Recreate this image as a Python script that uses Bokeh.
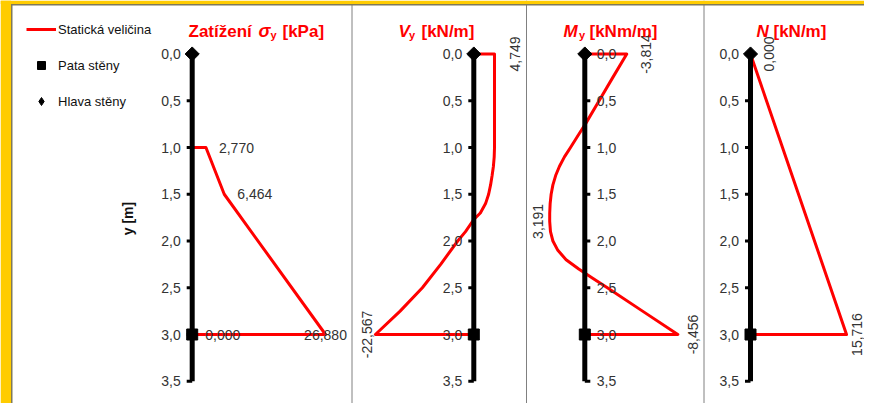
import math
from bokeh.plotting import figure
from bokeh.models import Range1d, Span, BoxAnnotation, Label, Legend, LegendItem
from bokeh.core.properties import value
from bokeh.embed import file_html
from bokeh.resources import INLINE

# ---------------- data ----------------
depth_ticks = [0.0, 0.5, 1.0, 1.5, 2.0, 2.5, 3.0, 3.5]
depth_tick_labels = ["0,0", "0,5", "1,0", "1,5", "2,0", "2,5", "3,0", "3,5"]
wall_head_depth = [0.0]
wall_foot_depth = [3.0]
axis_value = [0.0]

sigma_depth = [0.0, 1.0, 1.0, 1.5, 3.0, 3.0]
sigma_value = [0.0, 0.0, 2.770, 6.464, 26.880, 0.000]
sigma_lbl_depth = [1.0, 1.5, 3.0, 3.0]
sigma_lbl_value = [2.770, 6.464, 0.000, 26.880]

vy_depth = [0.0, 0.0, 1.0, 1.1, 1.2, 1.3, 1.4, 1.5, 1.6, 1.7, 1.77, 1.9, 2.0, 2.25, 2.5, 2.75, 3.0, 3.0]
vy_value = [0.0, 4.749, 4.749, 4.68, 4.5, 4.2, 3.85, 3.4, 2.7, 1.5, 0.0, -1.9, -3.7, -7.6, -11.8, -16.9, -22.567, 0.0]
vy_lbl_depth = [0.0, 3.0]
vy_lbl_value = [4.749, -22.567]

my_depth = [0.0, 0.0, 0.25, 0.5, 0.75, 0.85, 1.0, 1.1, 1.2, 1.3, 1.4, 1.5, 1.6, 1.7, 1.79, 1.9,
            2.0, 2.1, 2.2, 2.3, 2.4, 2.5, 2.75, 3.0, 3.0]
my_value = [0.0, -3.814, -2.55, -1.3, -0.05, 0.5, 1.3, 1.85, 2.3, 2.65, 2.9, 3.06, 3.15, 3.19, 3.191, 3.12,
            2.9, 2.45, 1.7, 0.55, -0.75, -2.05, -5.25, -8.456, 0.0]
my_lbl_depth = [0.0, 1.79, 3.0]
my_lbl_value = [-3.814, 3.191, -8.456]

n_depth = [0.0, 3.0, 3.0]
n_value = [0.0, 15.716, 0.0]
n_lbl_depth = [0.0, 3.0]
n_lbl_value = [0.000, 15.716]


def fmt3(v):
    return f"{v:.3f}".replace(".", ",")


# ---------------- layout / style ----------------
W, H = 864, 403
X0S, X1S = 0, W
Y0S, Y1S = 0, H
DEPTH0_PX, PX_PER_M = 53.5, 93.5
RED = "#FF0000"
TXT = "#333333"
GOLD = "#FFCC00"
EDGE = "#7f7a5a"
FONT = "Liberation Sans"
HALFPI = math.pi / 2

panels = [
    dict(name="sig", depth=sigma_depth, vals=sigma_value, ld=sigma_lbl_depth, lv=sigma_lbl_value,
         axis_px=191.7, ppu=4.96, side=-1,
         lbl=[(13, "left", 0), (13, "left", 0), (13, "left", 0), (0, "center", 0)]),
    dict(name="vy", depth=vy_depth, vals=vy_value, ld=vy_lbl_depth, lv=vy_lbl_value,
         axis_px=473.3, ppu=4.36, side=-1,
         lbl=[(20, "center", HALFPI), (-8, "center", HALFPI)]),
    dict(name="my", depth=my_depth, vals=my_value, ld=my_lbl_depth, lv=my_lbl_value,
         axis_px=584.3, ppu=-11.0, side=1,
         lbl=[(19, "center", HALFPI), (-12, "center", HALFPI), (15, "center", HALFPI)]),
    dict(name="n", depth=n_depth, vals=n_value, ld=n_lbl_depth, lv=n_lbl_value,
         axis_px=750.0, ppu=6.11, side=-1,
         lbl=[(18, "center", HALFPI), (10, "center", HALFPI)]),
]

p = figure(width=W, height=H, output_backend="svg", toolbar_location=None,
           x_range=Range1d(X0S, X1S), y_range=Range1d(Y1S, Y0S),
           x_axis_location=None, y_axis_location=None, min_border=0,
           outline_line_color=None, background_fill_color="white", border_fill_color="white")
p.grid.visible = False

p.extra_y_ranges = {"m": Range1d(start=(Y1S - DEPTH0_PX) / PX_PER_M, end=(Y0S - DEPTH0_PX) / PX_PER_M)}
p.extra_x_ranges = {pn["name"]: Range1d(start=(X0S - pn["axis_px"]) / pn["ppu"],
                                        end=(X1S - pn["axis_px"]) / pn["ppu"]) for pn in panels}

# panel separators
for sx in (351.5, 526.0, 703.5):
    p.add_layout(Span(location=sx, dimension="height", line_color="#808080", line_width=1))
# gold frame with its dark inner edge
p.add_layout(BoxAnnotation(left=10.5, right=12, top=4, bottom=Y1S, fill_color=EDGE, fill_alpha=1, line_color=None))
p.add_layout(BoxAnnotation(left=10.5, right=X1S, top=3.5, bottom=5, fill_color=EDGE, fill_alpha=1, line_color=None))
p.add_layout(BoxAnnotation(left=X0S, right=10.5, fill_color=GOLD, fill_alpha=1, line_color=None))
p.add_layout(BoxAnnotation(top=Y0S, bottom=3.5, fill_color=GOLD, fill_alpha=1, line_color=None))

text_common = dict(text_font=value(FONT), text_font_size="14px", text_color=TXT, text_baseline="middle")

line_renderers = []
foot_renderers = []
head_proxy = None
for i, pn in enumerate(panels):
    kw = dict(x_range_name=pn["name"], y_range_name="m")
    r = p.line(pn["vals"], pn["depth"], line_color=RED, line_width=3, line_join="round", **kw)
    line_renderers.append(r)
    # wall axis
    p.segment(x0=axis_value, y0=[depth_ticks[0]], x1=axis_value, y1=[depth_ticks[-1]],
              line_color="black", line_width=5, **kw)
    stub_x = (pn["side"] * 2.75) / pn["ppu"]
    p.rect(x=[stub_x] * len(depth_ticks), y=depth_ticks, width=5.5, height=3,
           width_units="screen", height_units="screen", fill_color="black", line_color=None, **kw)
    if pn["side"] < 0:
        p.text(x=axis_value * len(depth_ticks), y=depth_ticks, text=depth_tick_labels,
               x_offset=-11.5, text_align="right", **text_common, **kw)
    else:
        p.text(x=axis_value * len(depth_ticks), y=depth_ticks, text=depth_tick_labels,
               x_offset=12, text_align="left", **text_common, **kw)
    if i == 0:
        # diamond used for the legend entry, hidden under the head marker
        head_proxy = p.scatter(x=axis_value, y=wall_head_depth, marker="diamond", size=10,
                               color="black", **kw)
    p.scatter(x=axis_value, y=wall_head_depth, marker="square", angle=math.pi / 4, size=10,
              color="black", **kw)
    rf = p.scatter(x=axis_value, y=wall_foot_depth, marker="square", size=11, color="black", **kw)
    foot_renderers.append(rf)
    for v, d, (off, align, ang) in zip(pn["lv"], pn["ld"], pn["lbl"]):
        p.text(x=[v], y=[d], text=[fmt3(v)], x_offset=off, angle=ang, text_align=align,
               **text_common, **kw)

legend = Legend(items=[LegendItem(label="Statická veličina", renderers=[line_renderers[0]]),
                       LegendItem(label="Pata stěny", renderers=[foot_renderers[0]]),
                       LegendItem(label="Hlava stěny", renderers=[head_proxy])],
                location=(26, 292), border_line_color=None, background_fill_alpha=0,
                padding=0, margin=0, spacing=16, glyph_height=20, glyph_width=30,
                label_height=20, label_standoff=2, label_text_font=FONT,
                label_text_font_size="13px", label_text_color="#111111")
p.add_layout(legend)

# panel titles
title_pieces = [
    ("Zatížení", 188, "bold", "17px", 30.5),
    ("σ", 258, "bold italic", "18px", 30.5),
    ("y", 270, "bold", "11px", 34.5),
    ("[kPa]", 282, "bold", "17px", 30.5),
    ("V", 398, "bold italic", "17px", 30.5),
    ("y", 408.5, "bold", "11px", 34.5),
    ("[kN/m]", 421, "bold", "17px", 30.5),
    ("M", 563, "bold italic", "17px", 30.5),
    ("y", 578.5, "bold", "11px", 34.5),
    ("[kNm/m]", 589, "bold", "17px", 30.5),
    ("N", 756, "bold italic", "17px", 30.5),
    ("[kN/m]", 773, "bold", "17px", 30.5),
]
for txt, x, style, size, y in title_pieces:
    p.add_layout(Label(x=x, y=y, text=txt, text_font=FONT, text_font_style=style,
                       text_font_size=size, text_color=RED, text_align="left",
                       text_baseline="alphabetic"))

# y axis title
p.add_layout(Label(x=127, y=218, text="y [m]", angle=HALFPI, text_font=FONT, text_font_style="bold",
                   text_font_size="14px", text_color="#111111", text_align="center",
                   text_baseline="middle"))

open("out.html", "w").write(file_html(p, INLINE))
